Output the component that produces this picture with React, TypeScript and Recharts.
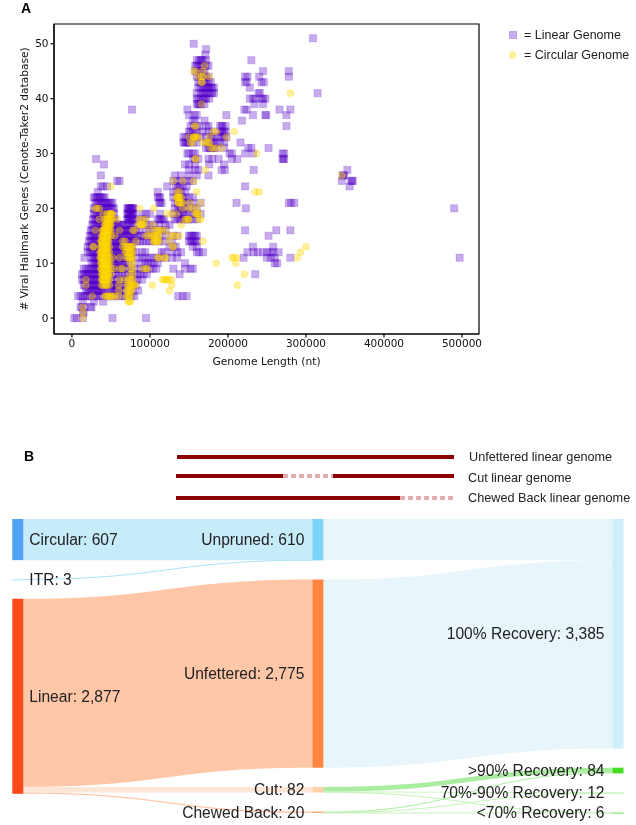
import { Label, ReferenceArea, Sankey, Scatter, ScatterChart, XAxis, YAxis } from "recharts"

// rows are [viral hallmark genes, genome lengths in kb]
type Row = [number, number[]]

const linearLowRows: Row[] = [
  [0, [3, 6, 14, 52, 95]],
  [1, [14, 15]],
  [2, [11, 13, 16, 24, 25]],
  [3, [14, 28, 40]],
  [4, [8, 11, 14, 17, 20, 23, 26, 29, 31, 33, 38, 42, 45, 48, 52, 56, 60, 64, 68, 72, 76, 80, 136, 142, 147]],
  [5, [18, 20, 22, 24, 26, 28, 30, 32, 34, 36, 38, 40, 42, 46, 50, 52, 54, 56, 58, 60, 62, 66, 70, 74, 78, 85]],
  [6, [15, 17, 19, 21, 23, 25, 27, 29, 31, 33, 35, 37, 39, 41, 44, 48, 50, 52, 54, 56, 58, 60, 63, 66, 70, 74, 78, 82]],
  [7, [13, 15, 17, 19, 21, 23, 25, 27, 29, 31, 33, 35, 37, 39, 43, 47, 50, 54, 58, 62, 65, 68, 72, 76, 80, 84, 90]],
  [8, [13, 15, 17, 19, 21, 23, 25, 27, 29, 31, 33, 35, 37, 40, 44, 48, 52, 56, 60, 64, 68, 72, 76, 80, 84, 88, 92, 96, 138, 235]],
  [9, [15, 18, 21, 24, 26, 28, 30, 32, 34, 36, 38, 40, 42, 44, 46, 48, 50, 52, 54, 56, 58, 60, 62, 64, 68, 72, 76, 80, 88, 92, 96, 100, 104, 108, 130, 145, 152, 155]],
  [10, [25, 28, 30, 32, 34, 36, 38, 40, 42, 44, 46, 48, 50, 52, 54, 56, 58, 60, 62, 64, 66, 68, 72, 80, 90, 94, 98, 101, 105, 110, 145, 260, 263]],
  [11, [16, 25, 27, 29, 31, 33, 35, 37, 39, 41, 43, 45, 47, 49, 51, 53, 55, 57, 59, 61, 63, 65, 68, 72, 76, 85, 90, 95, 100, 105, 110, 115, 120, 128, 135, 220, 250, 255, 260, 280, 497]],
  [12, [20, 23, 25, 27, 29, 31, 33, 35, 37, 39, 41, 43, 45, 47, 49, 51, 53, 55, 57, 59, 61, 63, 65, 67, 69, 71, 73, 75, 78, 82, 90, 94, 115, 118, 128, 135, 140, 160, 163, 168, 225, 233, 238, 245, 250, 255, 258, 265]],
]

const linearMidRows: Row[] = [
  [13, [20, 23, 25, 27, 29, 31, 33, 35, 37, 39, 41, 43, 45, 47, 49, 51, 53, 55, 57, 59, 61, 63, 65, 67, 69, 71, 73, 75, 77, 125, 130, 133, 155, 160, 232, 258]],
  [14, [22, 24, 26, 28, 30, 32, 34, 36, 38, 40, 42, 44, 46, 48, 50, 52, 54, 56, 58, 60, 62, 64, 66, 68, 70, 72, 74, 76, 78, 80, 83, 87, 91, 95, 99, 103, 107, 112, 118, 128, 150, 152, 154, 156, 158, 160]],
  [15, [23, 25, 27, 29, 31, 33, 35, 37, 39, 41, 43, 45, 47, 49, 51, 53, 55, 57, 59, 61, 63, 65, 67, 69, 71, 73, 75, 77, 79, 81, 84, 88, 92, 96, 100, 104, 108, 112, 120, 130, 135, 150, 152, 154, 156, 158, 160, 252]],
  [16, [24, 26, 28, 30, 32, 34, 36, 38, 40, 42, 44, 46, 48, 50, 52, 54, 56, 58, 60, 62, 64, 66, 68, 70, 72, 74, 76, 78, 80, 82, 86, 95, 100, 105, 110, 115, 120, 222, 262, 280]],
  [17, [26, 28, 30, 32, 34, 36, 38, 40, 42, 44, 46, 48, 50, 52, 54, 56, 58, 60, 62, 64, 66, 71, 73, 75, 77, 79, 90, 95, 100, 105, 112, 120, 125]],
  [18, [27, 29, 31, 33, 35, 37, 39, 41, 43, 45, 47, 49, 51, 53, 55, 71, 72, 73, 74, 75, 76, 77, 78, 79, 86, 90, 94, 110, 112, 114, 116, 118, 132, 135, 138, 140, 143, 145, 148, 150, 155, 160]],
  [19, [28, 30, 32, 34, 36, 38, 40, 42, 44, 46, 48, 50, 52, 54, 71, 72, 73, 74, 75, 76, 77, 78, 79, 90, 95, 100, 113, 130, 135, 138, 140, 143, 145, 150, 155, 160, 165]],
  [20, [28, 30, 32, 34, 36, 38, 40, 42, 44, 46, 48, 50, 52, 54, 71, 72, 73, 74, 75, 76, 77, 78, 79, 132, 136, 138, 140, 142, 144, 150, 155, 160, 223, 490]],
  [21, [30, 32, 34, 36, 38, 40, 42, 44, 46, 48, 50, 52, 112, 113, 115, 132, 136, 138, 140, 142, 145, 150, 155, 165, 211, 278, 281, 285]],
  [22, [28, 30, 32, 34, 36, 38, 40, 42, 110, 112, 113, 130, 135, 138, 140, 142, 145, 150, 155]],
  [23, [33, 110, 130, 135, 138, 140, 145]],
  [24, [37, 40, 45, 122, 133, 136, 138, 142, 147, 222, 356]],
  [25, [58, 61, 130, 135, 140, 145, 150, 155, 346, 358, 359, 360]],
]

const linearHighRows: Row[] = [
  [26, [37, 132, 140, 150, 160, 175, 347, 348, 349]],
  [27, [150, 158, 162, 192, 196, 233, 353]],
  [28, [41, 145, 150, 158, 176, 195]],
  [29, [31, 155, 158, 162, 175, 180, 188, 205, 212, 270, 271, 272]],
  [30, [148, 150, 155, 158, 202, 205, 222, 232, 270, 272]],
  [31, [172, 175, 177, 178, 180, 182, 185, 195, 226, 230, 252]],
  [32, [143, 145, 146, 148, 150, 155, 160, 172, 175, 177, 180, 182, 185, 190, 195, 216]],
  [33, [143, 146, 150, 152, 155, 158, 160, 165, 172, 178, 180, 182, 190, 192, 195, 198]],
  [34, [150, 152, 155, 158, 160, 168, 175, 180, 190, 192, 193, 195, 197]],
  [35, [152, 156, 160, 163, 172, 175, 190, 192, 193, 197, 275]],
  [36, [155, 158, 170, 218]],
  [37, [150, 157, 160, 198, 232, 248, 249, 275]],
  [38, [77, 148, 221, 224, 266, 280]],
  [39, [160, 162, 163, 165, 166, 170, 234, 245]],
  [40, [160, 162, 165, 168, 170, 172, 176, 228, 232, 235, 243, 245, 248]],
  [41, [160, 165, 168, 170, 172, 175, 178, 180, 182, 239, 241, 315]],
  [42, [162, 165, 168, 170, 172, 174, 176, 178, 180, 182, 228]],
  [43, [162, 165, 168, 170, 172, 175, 178, 222, 224, 246, 243]],
  [44, [160, 163, 165, 168, 170, 172, 175, 222, 225, 240, 278]],
  [45, [158, 160, 163, 165, 168, 170, 245, 278]],
  [46, [158, 160, 162, 165, 168, 170, 172, 175]],
  [47, [160, 163, 165, 166, 168, 172, 230]],
  [48, [171]],
  [49, [172]],
  [50, [156]],
  [51, [309]],
]

const circularRows: Row[] = [
  [0, [14]],
  [1, [14]],
  [2, [14]],
  [3, [72, 74, 75]],
  [4, [26, 42, 44, 46, 48, 50, 52, 55, 60, 70, 72, 73, 75]],
  [5, [60, 70, 72, 73, 75, 77, 125]],
  [6, [18, 38, 40, 42, 44, 45, 48, 60, 71, 73, 75, 76, 78, 80, 82, 103, 128, 212]],
  [7, [18, 38, 39, 40, 41, 42, 43, 44, 45, 46, 48, 61, 67, 72, 74, 76, 78, 116, 118, 120, 122, 124, 128]],
  [8, [38, 39, 40, 41, 42, 43, 44, 45, 46, 47, 50, 75, 78, 221]],
  [9, [37, 38, 39, 40, 41, 42, 43, 44, 45, 46, 47, 50, 54, 62, 65, 75, 78, 91, 95, 97]],
  [10, [37, 38, 39, 40, 41, 42, 43, 44, 45, 46, 47, 49, 75, 78, 185, 210]],
  [11, [36, 37, 38, 39, 40, 41, 42, 43, 44, 45, 46, 48, 52, 61, 70, 72, 74, 75, 76, 78, 110, 112, 119, 120, 205, 208, 211, 289]],
  [12, [36, 37, 38, 39, 40, 41, 42, 43, 44, 45, 46, 48, 68, 70, 72, 74, 75, 76, 78, 293]],
  [13, [27, 28, 37, 38, 39, 40, 41, 42, 43, 44, 45, 46, 48, 65, 68, 70, 72, 74, 75, 76, 78, 129, 130, 300]],
  [14, [37, 38, 39, 40, 41, 42, 43, 44, 45, 46, 47, 65, 68, 82, 104, 106, 107, 108, 110, 112, 125, 168]],
  [15, [38, 39, 40, 41, 42, 43, 44, 45, 46, 47, 50, 55, 95, 98, 103, 105, 106, 108, 110, 112, 125, 130, 132, 138]],
  [16, [30, 39, 40, 41, 42, 43, 44, 45, 46, 47, 48, 50, 61, 78, 80, 100, 108, 110, 112, 115, 120]],
  [17, [42, 43, 44, 45, 46, 47, 48, 49, 50, 85, 88, 89, 90, 91, 93, 104, 140]],
  [18, [35, 42, 44, 45, 46, 47, 48, 49, 50, 52, 58, 86, 90, 95, 145, 147, 149, 150, 163, 165]],
  [19, [40, 45, 48, 49, 50, 51, 52, 122, 128, 134, 158, 160, 161, 163]],
  [20, [30, 32, 35, 87, 105, 142, 150, 155, 160]],
  [21, [136, 137, 138, 140, 142, 151, 165]],
  [22, [134, 135, 136, 137, 138, 140]],
  [23, [135, 138, 160, 235, 240]],
  [24, [50]],
  [25, [130, 142, 156]],
  [26, [346]],
  [27, [171]],
  [29, [158, 159]],
  [30, [237]],
  [31, [178, 181, 185, 192]],
  [32, [152, 155, 168, 172, 175, 176]],
  [33, [150, 156, 157, 158, 160, 162, 176, 198]],
  [34, [181, 185, 208]],
  [35, [157, 159]],
  [39, [166]],
  [41, [280]],
  [43, [166, 167]],
  [44, [162, 166, 168, 176]],
  [45, [156, 159, 168]],
  [46, [170]],
]

const xTicks = [0, 100000, 200000, 300000, 400000, 500000]
const yTicks = [0, 10, 20, 30, 40, 50]

const sankeyNames = [
  "Circular", "ITR", "Linear",
  "Unpruned", "Unfettered", "Cut", "Chewed Back",
  "100% Recovery", ">90% Recovery", "70%-90% Recovery", "<70% Recovery",
]
const sankeyLinks = [
  { source: 0, target: 3, value: 607 },
  { source: 1, target: 3, value: 3 },
  { source: 2, target: 4, value: 2775 },
  { source: 2, target: 5, value: 82 },
  { source: 2, target: 6, value: 20 },
  { source: 3, target: 7, value: 610 },
  { source: 4, target: 7, value: 2775 },
  { source: 5, target: 8, value: 70 },
  { source: 5, target: 9, value: 8 },
  { source: 5, target: 10, value: 4 },
  { source: 6, target: 8, value: 14 },
  { source: 6, target: 9, value: 4 },
  { source: 6, target: 10, value: 2 },
]
const nodeColors = ["#4fa3f5", "#a6dff7", "#fa4a1a", "#7dd3f5", "#ff8540", "#ffcfa8", "#ffa470", "#cfeefa", "#44dd22", "#a8f098", "#66e855"]
const linkColors = ["#c6ebf9", "#aee2f5", "#ffc6a8", "#fde6d6", "#ffc6a8", "#e8f6fc", "#e8f6fc", "#aaeca0", "#c6f2bc", "#c6f2bc", "#aaeca0", "#c6f2bc", "#c6f2bc"]

const toPoints = (rows: Row[]) =>
  rows.flatMap(([genes, lengths]) => lengths.map((kb) => ({ length: kb * 1000, genes })))

const linearPoints = toPoints([...linearLowRows, ...linearMidRows, ...linearHighRows])
const circularPoints = toPoints(circularRows)

const sansFont = "'Liberation Sans', sans-serif"
const plotFont = "'DejaVu Sans', sans-serif"
const PURPLE = "#5500c8"
const GOLD = "#ffd700"
const DARK_RED = "#8b0000"

const SquareMark = (p: any) => (
  <rect x={p.cx - 3.6} y={p.cy - 3.6} width={7.2} height={7.2} fill={PURPLE} fillOpacity={0.33} stroke={PURPLE} strokeOpacity={0.18} strokeWidth={1} />
)

const CircleMark = (p: any) => (
  <circle cx={p.cx} cy={p.cy} r={3.4} fill={GOLD} fillOpacity={0.38} stroke={GOLD} strokeOpacity={0.3} strokeWidth={1} />
)

const SankeyLink = (p: any) => {
  const { sourceX, targetX, sourceY, targetY, sourceControlX, targetControlX, linkWidth, index } = p
  // thin flows stay visible, the way they do in the original
  const h = Math.max(linkWidth / 2, 0.5)
  const d = `M${sourceX},${sourceY - h} C${sourceControlX},${sourceY - h} ${targetControlX},${targetY - h} ${targetX},${targetY - h}
    L${targetX},${targetY + h} C${targetControlX},${targetY + h} ${sourceControlX},${sourceY + h} ${sourceX},${sourceY + h} Z`
  return <path d={d} fill={linkColors[index]} />
}

const SankeyNode = (p: any) => {
  const { x, y, width, height, index, payload } = p
  const firstColumn = index < 3
  const label = `${payload.name}: ${payload.value.toLocaleString("en-US")}`
  return (
    <g>
      <rect x={x} y={y} width={width} height={Math.max(height, 1)} fill={nodeColors[index]} />
      <text
        x={firstColumn ? x + width + 6 : x - 8}
        y={y + height / 2}
        textAnchor={firstColumn ? "start" : "end"}
        dominantBaseline="central"
        fontFamily={sansFont}
        fontSize={15.6}
        fill="#222"
      >
        {label}
      </text>
    </g>
  )
}

const panelLabel = (text: string, left: number, top: number) => (
  <div style={{ position: "absolute", left, top, fontFamily: sansFont, fontWeight: 700, fontSize: 14, lineHeight: "14px" }}>{text}</div>
)

export default function App() {
  return (
    <div style={{ position: "absolute", left: 0, top: 0, width: 636, height: 825, background: "#fff", overflow: "hidden", filter: "blur(0.35px)" }}>
      {panelLabel("A", 21, 1)}
      {panelLabel("B", 24, 449)}

      <div style={{ position: "absolute", left: 0, top: 0 }}>
        <ScatterChart width={500} height={380} margin={{ top: 24, right: 21, bottom: 0, left: 0 }}>
          <XAxis
            type="number"
            dataKey="length"
            domain={[-23000, 521800]}
            ticks={xTicks}
            interval={0}
            allowDataOverflow
            height={46}
            stroke="#000"
            strokeWidth={1.2}
            tickSize={3.5}
            tick={{ fill: "#111", fontSize: 10.5, fontFamily: plotFont }}
            tickFormatter={(v: number) => String(v)}
          >
            <Label value="Genome Length (nt)" position="insideBottom" offset={15} fill="#111" fontSize={10.7} fontFamily={plotFont} />
          </XAxis>
          <YAxis
            type="number"
            dataKey="genes"
            domain={[-2.9, 53.6]}
            ticks={yTicks}
            interval={0}
            allowDataOverflow
            width={54}
            stroke="#000"
            strokeWidth={1.2}
            tickSize={3.5}
            tick={{ fill: "#111", fontSize: 10.5, fontFamily: plotFont }}
          >
            <Label value="# Viral Hallmark Genes (Cenote-Taker2 database)" angle={-90} position="insideLeft" offset={24} fill="#111" fontSize={10.6} fontFamily={plotFont} style={{ textAnchor: "middle" }} />
          </YAxis>
          <ReferenceArea x1={-23000} x2={521800} y1={-2.9} y2={53.6} fill="none" stroke="#000" strokeWidth={1.2} ifOverflow="visible" />
          <Scatter name="Linear Genome" data={linearPoints} shape={SquareMark} isAnimationActive={false} />
          <Scatter name="Circular Genome" data={circularPoints} shape={CircleMark} isAnimationActive={false} />
        </ScatterChart>
      </div>

      <svg width={136} height={70} style={{ position: "absolute", left: 500, top: 20 }}>
        <rect x={9.5} y={11.5} width={7} height={7} fill={PURPLE} fillOpacity={0.33} stroke={PURPLE} strokeOpacity={0.25} />
        <circle cx={12.6} cy={35} r={3.4} fill={GOLD} fillOpacity={0.38} stroke={GOLD} strokeOpacity={0.3} />
        <text x={24} y={15} dominantBaseline="central" fontFamily={sansFont} fontSize={12.5} fill="#222">= Linear Genome</text>
        <text x={24} y={35} dominantBaseline="central" fontFamily={sansFont} fontSize={12.5} fill="#222">= Circular Genome</text>
      </svg>

      <svg width={636} height={60} style={{ position: "absolute", left: 0, top: 445 }}>
        <line x1={177} x2={454} y1={12} y2={12} stroke={DARK_RED} strokeWidth={4} />
        <line x1={176} x2={283} y1={31} y2={31} stroke={DARK_RED} strokeWidth={4} />
        <line x1={283} x2={333} y1={31} y2={31} stroke="#e2aeb4" strokeWidth={4} strokeDasharray="5 3" />
        <line x1={333} x2={454} y1={31} y2={31} stroke={DARK_RED} strokeWidth={4} />
        <line x1={176} x2={400} y1={53} y2={53} stroke={DARK_RED} strokeWidth={4} />
        <line x1={400} x2={454} y1={53} y2={53} stroke="#e2aeb4" strokeWidth={4} strokeDasharray="5 3" />
        <text x={469} y={12} dominantBaseline="central" fontFamily={sansFont} fontSize={12.7} fill="#222">Unfettered linear genome</text>
        <text x={468} y={33} dominantBaseline="central" fontFamily={sansFont} fontSize={12.7} fill="#222">Cut linear genome</text>
        <text x={468} y={53} dominantBaseline="central" fontFamily={sansFont} fontSize={12.7} fill="#222">Chewed Back linear genome</text>
      </svg>

      <div style={{ position: "absolute", left: 0, top: 510 }}>
        <Sankey
          width={636}
          height={315}
          data={{ nodes: sankeyNames.map((name) => ({ name })), links: sankeyLinks }}
          nodeWidth={11}
          nodePadding={19.2}
          iterations={0}
          sort={false}
          margin={{ top: 9, right: 12.5, bottom: 12, left: 12.3 }}
          node={SankeyNode}
          link={SankeyLink}
        />
      </div>
    </div>
  )
}
